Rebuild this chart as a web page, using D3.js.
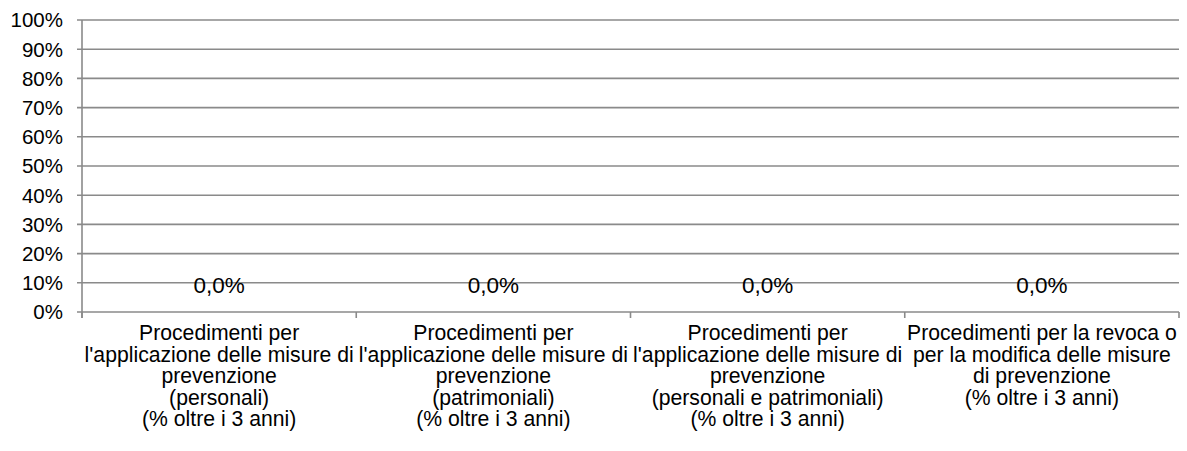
<!DOCTYPE html>
<html>
<head>
<meta charset="utf-8">
<script src="https://cdn.jsdelivr.net/npm/d3@7"></script>
<style>
  body { margin: 0; background: #fff; }
  svg text { font-family: "Liberation Sans", Arial, sans-serif; fill: #000; }
</style>
</head>
<body>
<div id="chart"></div>
<script>
// chart data
const categories = [
    ["Procedimenti per", "l'applicazione delle misure di", "prevenzione", "(personali)", "(% oltre i 3 anni)"],
    ["Procedimenti per", "l'applicazione delle misure di", "prevenzione", "(patrimoniali)", "(% oltre i 3 anni)"],
    ["Procedimenti per", "l'applicazione delle misure di", "prevenzione", "(personali e patrimoniali)", "(% oltre i 3 anni)"],
    ["Procedimenti per la revoca o", "per la modifica delle misure", "di prevenzione", "(% oltre i 3 anni)"]
];
const values = [0.0, 0.0, 0.0, 0.0];
const yTicks = [0, 0.1, 0.2, 0.3, 0.4, 0.5, 0.6, 0.7, 0.8, 0.9, 1.0];

const width = 1187;
const height = 451;
const margin = {top: 20, right: 8, bottom: 139, left: 82};

const svg = d3.select("#chart")
              .append("svg")
              .attr("width", width)
              .attr("height", height);

const x = d3.scaleBand()
            .domain(d3.range(categories.length))
            .range([margin.left, width - margin.right])
            .padding(0);

const y = d3.scaleLinear()
            .domain([0, 1])
            .range([height - margin.bottom, margin.top]);

// gridlines
svg.append("g")
   .selectAll("line")
   .data(yTicks)
   .enter()
   .append("line")
   .attr("x1", margin.left - 5)
   .attr("x2", width - margin.right)
   .attr("y1", d => y(d))
   .attr("y2", d => y(d))
   .attr("stroke", "#8a8a8a")
   .attr("stroke-width", 1.6);

// y axis line
svg.append("line")
   .attr("x1", margin.left)
   .attr("x2", margin.left)
   .attr("y1", y(1))
   .attr("y2", y(0) + 6)
   .attr("stroke", "#8a8a8a")
   .attr("stroke-width", 1.6);

// category ticks
const catEdges = d3.range(categories.length + 1)
                   .map(i => i < categories.length ? x(i) : x(i - 1) + x.bandwidth());
svg.append("g")
   .selectAll("line")
   .data(catEdges)
   .enter()
   .append("line")
   .attr("x1", d => d)
   .attr("x2", d => d)
   .attr("y1", y(0))
   .attr("y2", y(0) + 6)
   .attr("stroke", "#8a8a8a")
   .attr("stroke-width", 1.6);

// y tick labels
svg.append("g")
   .selectAll("text")
   .data(yTicks)
   .enter()
   .append("text")
   .attr("x", margin.left - 19)
   .attr("y", d => y(d))
   .attr("dy", "0.36em")
   .attr("text-anchor", "end")
   .style("font-size", "20.5px")
   .text(d => d3.format(".0%")(d));

// bars (zero height)
svg.append("g")
   .selectAll("rect")
   .data(values)
   .enter()
   .append("rect")
   .attr("x", (d, i) => x(i) + x.bandwidth() * 0.25)
   .attr("width", x.bandwidth() * 0.5)
   .attr("y", d => y(d))
   .attr("height", d => y(0) - y(d))
   .attr("fill", "#4f81bd");

// data labels
const fmt = d => d3.format(".1f")(d * 100).replace(".", ",") + "%";
svg.append("g")
   .selectAll("text")
   .data(values)
   .enter()
   .append("text")
   .attr("x", (d, i) => x(i) + x.bandwidth() / 2)
   .attr("y", d => y(d) - 19)
   .attr("text-anchor", "middle")
   .style("font-size", "22.5px")
   .text(d => fmt(d));

// category labels
const catLabels = svg.append("g")
   .selectAll("text")
   .data(categories)
   .enter()
   .append("text")
   .attr("text-anchor", "middle")
   .style("font-size", "21.2px")
   .attr("transform", (d, i) => `translate(${x(i) + x.bandwidth() / 2},${y(0) + 28})`);

catLabels.selectAll("tspan")
   .data(d => d)
   .enter()
   .append("tspan")
   .attr("x", 0)
   .attr("y", (d, i) => i * 21.6)
   .text(d => d);
</script>
</body>
</html>
